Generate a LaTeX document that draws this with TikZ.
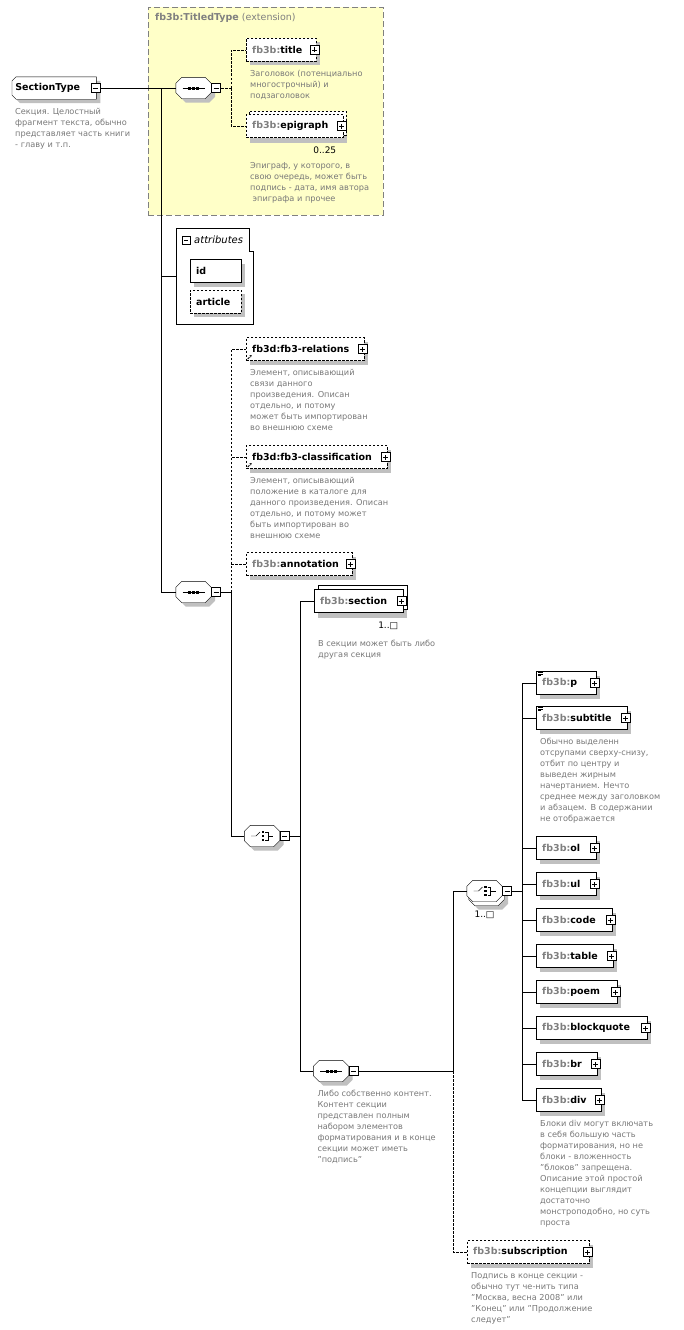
\documentclass[tikz,border=0pt]{standalone}
\usepackage{fontspec}
\setmainfont{DejaVu Sans}
\usetikzlibrary{positioning,shadows,arrows.meta}
\definecolor{pfxgray}{RGB}{128,128,128}
\definecolor{descgray}{RGB}{120,120,120}
\definecolor{extfill}{RGB}{255,255,200}
\definecolor{shadegray}{RGB}{192,192,192}
\newcommand{\pfx}[1]{\textcolor{pfxgray}{#1}}
\newcommand{\octpath}[1]{([xshift=6pt]#1.north west) -- ([xshift=-6pt]#1.north east) -- ([yshift=-6pt]#1.north east)
   -- ([yshift=6pt]#1.south east) -- ([xshift=-6pt]#1.south east) -- ([xshift=6pt]#1.south west)
   -- ([yshift=6pt]#1.south west) -- ([yshift=-6pt]#1.north west) -- cycle}
\pgfdeclarelayer{back}
\pgfdeclarelayer{bg}
\pgfsetlayers{back,bg,main}

\begin{document}
\begin{tikzpicture}[x=1pt, y=-1pt, line width=0.9pt,
dropsh/.style={drop shadow={shadow xshift=4pt, shadow yshift=-4pt, opacity=1, fill=shadegray}},
ebox/.style={rectangle, draw, fill=white, anchor=west, minimum height=23pt, inner xsep=6pt, inner ysep=0pt,
      text width=#1, align=left, font=\fontsize{9.5}{11}\selectfont\bfseries},
elem/.style={ebox=#1, dropsh},
opt/.style={dash pattern=on 2.5pt off 1.5pt},
ctype/.style={rectangle, anchor=west, minimum width=84pt, minimum height=22pt,
      inner sep=0pt, font=\fontsize{9.5}{11}\selectfont\bfseries},
comp/.style={rectangle, minimum width=35pt, minimum height=21pt, inner sep=0pt},
octline/.style={draw, fill=white},
seqicon/.style={path picture={
      \draw[black] ([xshift=-11pt]path picture bounding box.center) -- ([xshift=11pt]path picture bounding box.center);
      \fill[black] ([xshift=-4pt]path picture bounding box.center) +(-1.5pt,-1.5pt) rectangle +(1.5pt,1.5pt);
      \fill[black] (path picture bounding box.center) +(-1.5pt,-1.5pt) rectangle +(1.5pt,1.5pt);
      \fill[black] ([xshift=4pt]path picture bounding box.center) +(-1.5pt,-1.5pt) rectangle +(1.5pt,1.5pt);}},
choiceicon/.style={path picture={
      \draw[black] ([xshift=-11pt]path picture bounding box.center) -- ([xshift=-6pt]path picture bounding box.center)
            -- ([xshift=-2pt, yshift=4pt]path picture bounding box.center);
      \fill[black] ([xshift=1pt, yshift=4pt]path picture bounding box.center) +(-1.3pt,-1.3pt) rectangle +(1.3pt,1.3pt);
      \fill[black] ([xshift=1pt]path picture bounding box.center) +(-1.3pt,-1.3pt) rectangle +(1.3pt,1.3pt);
      \fill[black] ([xshift=1pt, yshift=-4pt]path picture bounding box.center) +(-1.3pt,-1.3pt) rectangle +(1.3pt,1.3pt);
      \draw[black] ([xshift=3pt, yshift=4pt]path picture bounding box.center) -- ([xshift=6pt, yshift=4pt]path picture bounding box.center)
            -- ([xshift=6pt, yshift=-4pt]path picture bounding box.center) -- ([xshift=3pt, yshift=-4pt]path picture bounding box.center);
      \draw[black] ([xshift=6pt]path picture bounding box.center) -- ([xshift=11pt]path picture bounding box.center);}},
btn/.style={rectangle, draw, fill=white, minimum size=9pt, inner sep=0pt, line width=0.8pt,
      drop shadow={shadow xshift=0.8pt, shadow yshift=-0.8pt, opacity=1, fill=black}},
pbtn/.style={btn, path picture={\draw[black, line width=0.8pt]
      ([xshift=2pt]path picture bounding box.west) -- ([xshift=-2pt]path picture bounding box.east)
      ([yshift=2pt]path picture bounding box.south) -- ([yshift=-2pt]path picture bounding box.north);}},
mbtn/.style={btn, path picture={\draw[black, line width=0.8pt]
      ([xshift=2pt]path picture bounding box.west) -- ([xshift=-2pt]path picture bounding box.east);}},
mixed/.style={path picture={\draw[black, line width=0.5pt]
      ([shift={(2pt,-1.2pt)}]path picture bounding box.north west) -- ++(5pt,0pt)
      ([shift={(2pt,-2.7pt)}]path picture bounding box.north west) -- ++(5pt,0pt)
      ([shift={(2pt,-4.2pt)}]path picture bounding box.north west) -- ++(3pt,0pt);}},
refmark/.style={path picture={\draw[black, line width=0.8pt, -{Stealth[length=2.5pt, width=2.5pt]}]
      ([shift={(1.5pt,1.5pt)}]path picture bounding box.south west) -- ++(4pt,4pt);}},
extbox/.style={rectangle, draw=pfxgray, fill=extfill, dash pattern=on 6pt off 3pt, inner sep=0pt},
desc/.style={inner sep=0pt, align=left, text=descgray, font=\fontsize{8.2}{11}\selectfont},
mult/.style={inner sep=0pt, font=\fontsize{9}{10}\selectfont}]

 \begin{pgfonlayer}{back}
 \fill[white] (0,0) rectangle (683,1330);
 \node[extbox, minimum width=235pt, minimum height=208pt, anchor=north west] (ext) at (148,7) {};
 \end{pgfonlayer}
 \useasboundingbox (0,0) rectangle (683,1330);

 % root and TitledType extension
 \node[ctype] (sectype) at (12,88) {SectionType\hspace*{13pt}};
 \node[mbtn] (sectypebtn) at ([xshift=-1pt]sectype.east) {};
 \node[desc, below right=9pt and 3pt of sectype.south west] (sectypedesc) {Секция. Целостный\\фрагмент текста, обычно\\представляет часть книги\\- главу и т.п.};
 \node[anchor=west, inner sep=0pt, text=pfxgray, font=\fontsize{9.5}{11}\selectfont] (extlbl) at (155,18) {\textbf{fb3b:TitledType} (extension)};

 \node[comp] (seqa) at (193.5,88) {};
 \draw[octline, dropsh, seqicon] \octpath{seqa};
 \node[mbtn, right=0pt of seqa] (seqabtn) {};
 \node[elem=58pt, opt] (title) at (246,50) {\pfx{fb3b:}title};
 \node[pbtn] (titlebtn) at ([xshift=-2pt]title.east) {};
 \node[desc, below right=8pt and 4pt of title.south west] (titledesc) {Заголовок (потенциально\\многострочный) и\\подзаголовок};
 \node[ebox=85pt, opt] (epigraph) at (246,126) {\pfx{fb3b:}epigraph};
 \node[pbtn] (epigraphbtn) at ([xshift=-2pt]epigraph.east) {};
 \node[mult, below left=9pt and 7pt of epigraph.south east] (epigraphmult) {0..25};
 \node[desc, below right=25pt and 4pt of epigraph.south west] (epigraphdesc) {Эпиграф, у которого, в\\свою очередь, может быть\\подпись - дата, имя автора\\\hspace*{2.5pt}эпиграфа и прочее};

 % attributes
 \node[minimum width=77pt, minimum height=96pt, inner sep=0pt, anchor=north west] (attr) at (176,228) {};
 \draw[fill=white] (attr.north west) -- ([xshift=-4pt]attr.north east) |- ([yshift=-23pt]attr.north east)
   -- (attr.south east) -- (attr.south west) -- cycle;
 \node[mbtn, minimum size=8pt] (attrbtn) at (186,240) {};
 \node[anchor=west, inner sep=0pt, font=\fontsize{10}{11}\selectfont\itshape] (attrlbl) at (194,240) {attributes};
 \node[elem=39pt] (attrid) at (190,271) {id};
 \node[elem=39pt, opt] (attrarticle) at (190,301.5) {article};

 % second sequence
 \node[comp] (seqb) at (193.5,592) {};
 \draw[octline, dropsh, seqicon] \octpath{seqb};
 \node[mbtn, right=0pt of seqb] (seqbbtn) {};
 \node[elem=106pt, opt, refmark] (relations) at (246,349) {fb3d:fb3-relations};
 \node[pbtn] (relationsbtn) at ([xshift=-2pt]relations.east) {};
 \node[desc, below right=8pt and 4pt of relations.south west] (relationsdesc) {Элемент, описывающий\\связи данного\\произведения. Описан\\отдельно, и потому\\может быть импортирован\\во внешнюю схеме};
 \node[elem=129pt, opt, refmark] (classification) at (246,457) {fb3d:fb3-classification};
 \node[pbtn] (classificationbtn) at ([xshift=-2pt]classification.east) {};
 \node[desc, below right=8pt and 4pt of classification.south west] (classificationdesc) {Элемент, описывающий\\положение в каталоге для\\данного произведения. Описан\\отдельно, и потому может\\быть импортирован во\\внешнюю схеме};
 \node[elem=94pt, opt] (annotation) at (246,564) {\pfx{fb3b:}annotation};
 \node[pbtn] (annotationbtn) at ([xshift=-2pt]annotation.east) {};

 % choice: section or content
 \node[comp] (choicea) at (262,836) {};
 \draw[octline, dropsh, choiceicon] \octpath{choicea};
 \node[mbtn, right=0pt of choicea] (choiceabtn) {};
 \node[ebox=77pt] (section) at (314,601) {\pfx{fb3b:}section};
 \node[pbtn] (sectionbtn) at ([xshift=-2pt]section.east) {};
 \node[mult, below left=9pt and 5pt of section.south east] (sectionmult) {1..□};
 \node[desc, below right=27pt and 4pt of section.south west] (sectiondesc) {В секции может быть либо\\другая секция};

 \node[comp] (seqc) at (331,1071) {};
 \draw[octline, dropsh, seqicon] \octpath{seqc};
 \node[mbtn, right=0pt of seqc] (seqcbtn) {};
 \node[desc, below right=8.5pt and 4pt of seqc.south west] (seqcdesc) {Либо собственно контент.\\Контент секции\\представлен полным\\набором элементов\\форматирования и в конце\\секции может иметь\\"подпись"};

 \node[comp] (choiceb) at (484.5,891) {};
 \node[comp] (choicebbk) at ([shift={(2pt,-4pt)}]choiceb.center) {};
 \draw[octline, choiceicon] \octpath{choiceb};
 \node[mbtn, right=0pt of choiceb] (choicebbtn) {};
 \node[mult, below=9pt of choiceb] (choicebmult) {1..□};

 \node[elem=48pt, mixed] (p) at (536,683) {\pfx{fb3b:}p};
 \node[pbtn] (pbtn) at ([xshift=-2pt]p.east) {};
 \node[elem=79pt, mixed] (subtitle) at (536,718) {\pfx{fb3b:}subtitle};
 \node[pbtn] (subtitlebtn) at ([xshift=-2pt]subtitle.east) {};
 \node[desc, below right=8.5pt and 4pt of subtitle.south west] (subtitledesc) {Обычно выделенн\\отсрупами сверху-снизу,\\отбит по центру и\\выведен жирным\\начертанием. Нечто\\среднее между заголовком\\и абзацем. В содержании\\не отображается};
 \node[elem=48pt] (ol) at (536,848) {\pfx{fb3b:}ol};
 \node[pbtn] (olbtn) at ([xshift=-2pt]ol.east) {};
 \node[elem=48pt] (ul) at (536,884) {\pfx{fb3b:}ul};
 \node[pbtn] (ulbtn) at ([xshift=-2pt]ul.east) {};
 \node[elem=64pt] (code) at (536,920) {\pfx{fb3b:}code};
 \node[pbtn] (codebtn) at ([xshift=-2pt]code.east) {};
 \node[elem=65pt] (table) at (536,956) {\pfx{fb3b:}table};
 \node[pbtn] (tablebtn) at ([xshift=-2pt]table.east) {};
 \node[elem=69pt] (poem) at (536,992) {\pfx{fb3b:}poem};
 \node[pbtn] (poembtn) at ([xshift=-2pt]poem.east) {};
 \node[elem=99pt] (blockquote) at (536,1028) {\pfx{fb3b:}blockquote};
 \node[pbtn] (blockquotebtn) at ([xshift=-2pt]blockquote.east) {};
 \node[elem=49pt] (br) at (536,1064) {\pfx{fb3b:}br};
 \node[pbtn] (brbtn) at ([xshift=-2pt]br.east) {};
 \node[elem=53pt] (div) at (536,1100) {\pfx{fb3b:}div};
 \node[pbtn] (divbtn) at ([xshift=-2pt]div.east) {};
 \node[desc, below right=8.5pt and 4pt of div.south west] (divdesc) {Блоки div могут включать\\в себя большую часть\\форматирования, но не\\блоки - вложенность\\"блоков" запрещена.\\Описание этой простой\\концепции выглядит\\достаточно\\монстроподобно, но суть\\проста};

 \node[elem=110pt, opt] (subscription) at (467,1252) {\pfx{fb3b:}subscription};
 \node[pbtn] (subscriptionbtn) at ([xshift=-2pt]subscription.east) {};
 \node[desc, below right=8.5pt and 4pt of subscription.south west] (subscriptiondesc) {Подпись в конце секции -\\обычно тут че-нить типа\\"Москва, весна 2008" или\\"Конец" или "Продолжение\\следует"};

 % outlines and stacked copies behind
 \begin{pgfonlayer}{bg}
 \draw[fill=white, dropsh] ([xshift=4pt]sectype.north west) -- (sectype.north east) -- (sectype.south east)
   -- ([xshift=4pt]sectype.south west) -- ([yshift=4pt]sectype.south west) -- ([yshift=-4pt]sectype.north west) -- cycle;
 \fill[shadegray] ([shift={(4pt,-4pt)}]epigraph.north west) rectangle ([shift={(4pt,-5pt)}]epigraph.south east);
 \draw[opt, fill=white] ([shift={(3pt,3pt)}]epigraph.south west) rectangle ([shift={(3pt,3pt)}]epigraph.north east);
 \fill[shadegray] ([shift={(4pt,-4pt)}]section.north west) rectangle ([shift={(4pt,-5pt)}]section.south east);
 \draw[fill=white] ([shift={(4pt,4pt)}]section.south west) rectangle ([shift={(4pt,4pt)}]section.north east);
 \draw[octline, dropsh] \octpath{choicebbk};
 \end{pgfonlayer}

 % connectors
 \coordinate (trunk) at (161,88);
 \coordinate (forka) at (231,88);
 \coordinate (forkb) at (231,592);
 \coordinate (forkc) at (300,836);
 \coordinate (forkd) at (453,1071);
 \coordinate (forke) at (522,891);
 \draw (sectypebtn.east) -- (seqa.west);
 \draw (trunk) |- (attr.west);
 \draw (trunk) |- (seqb.west);
 \draw[opt] (seqabtn.east) -- (forka);
 \draw[opt] (forka) |- (title.west);
 \draw[opt] (forka) |- (epigraph.west);
 \draw (seqbbtn.east) -- (forkb);
 \draw[opt] (forkb) |- (relations.west);
 \draw[opt] (forkb) |- (classification.west);
 \draw[opt] (forkb) |- (annotation.west);
 \draw (forkb) |- (choicea.west);
 \draw (choiceabtn.east) -- (forkc);
 \draw (forkc) |- (section.west);
 \draw (forkc) |- (seqc.west);
 \draw (seqcbtn.east) -- (forkd);
 \draw (forkd) |- (choiceb.west);
 \draw[opt] (forkd) |- (subscription.west);
 \draw (choicebbtn.east) -- (forke);
 \draw (forke) |- (p.west);
 \draw (forke) |- (subtitle.west);
 \draw (forke) |- (ol.west);
 \draw (forke) |- (ul.west);
 \draw (forke) |- (code.west);
 \draw (forke) |- (table.west);
 \draw (forke) |- (poem.west);
 \draw (forke) |- (blockquote.west);
 \draw (forke) |- (br.west);
 \draw (forke) |- (div.west);
\end{tikzpicture}
\end{document}
